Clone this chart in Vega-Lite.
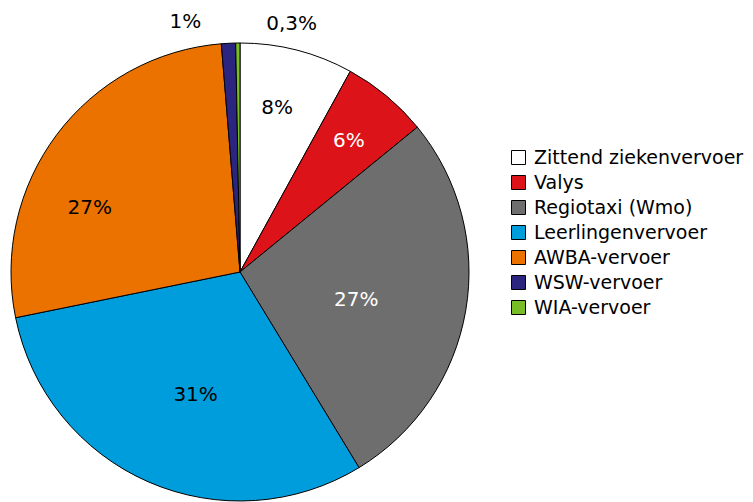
{
  "$schema": "https://vega.github.io/schema/vega-lite/v6.json",
  "width": 458,
  "height": 458,
  "autosize": {"type": "none"},
  "padding": {"left": 11, "top": 43, "right": 284, "bottom": 1},
  "background": "white",
  "data": {
    "values": [
      {"cat": "Zittend ziekenvervoer", "value": 8.0, "ord": 1, "label": "8%"},
      {"cat": "Valys", "value": 6.1, "ord": 2, "label": "6%"},
      {"cat": "Regiotaxi (Wmo)", "value": 27.2, "ord": 3, "label": "27%"},
      {"cat": "Leerlingenvervoer", "value": 30.5, "ord": 4, "label": "31%"},
      {"cat": "AWBA-vervoer", "value": 26.9, "ord": 5, "label": "27%"},
      {"cat": "WSW-vervoer", "value": 1.0, "ord": 6, "label": "1%"},
      {"cat": "WIA-vervoer", "value": 0.3, "ord": 7, "label": "0,3%"}
    ]
  },
  "encoding": {
    "theta": {"field": "value", "type": "quantitative", "stack": true},
    "order": {"field": "ord", "type": "quantitative"}
  },
  "layer": [
    {
      "mark": {"type": "arc", "stroke": "black", "strokeWidth": 1, "outerRadius": 229},
      "encoding": {
        "color": {
          "field": "cat",
          "type": "nominal",
          "scale": {
            "domain": ["Zittend ziekenvervoer", "Valys", "Regiotaxi (Wmo)", "Leerlingenvervoer", "AWBA-vervoer", "WSW-vervoer", "WIA-vervoer"],
            "range": ["#ffffff", "#dc1419", "#6e6e6e", "#009ddc", "#ec7200", "#2b2580", "#78bc28"]
          },
          "sort": null,
          "legend": {
            "title": null,
            "orient": "none",
            "legendX": 498,
            "legendY": 105,
            "padding": 0,
            "symbolType": "square",
            "symbolSize": 196,
            "symbolStrokeColor": "black",
            "symbolStrokeWidth": 1,
            "symbolOpacity": 1,
            "labelFont": "DejaVu Sans",
            "labelFontSize": 19,
            "labelColor": "black",
            "labelOffset": 6,
            "rowPadding": 5,
            "labelLimit": 400
          }
        }
      }
    },
    {
      "mark": {"type": "text", "radius": 169, "dx": -5, "font": "DejaVu Sans", "fontSize": 20, "color": "black", "align": "center", "baseline": "middle"},
      "encoding": {"text": {"condition": {"test": "datum.ord === 1", "field": "label"}, "value": ""}}
    },
    {
      "mark": {"type": "text", "radius": 170, "font": "DejaVu Sans", "fontSize": 20, "color": "white", "align": "center", "baseline": "middle"},
      "encoding": {"text": {"condition": {"test": "datum.ord === 2", "field": "label"}, "value": ""}}
    },
    {
      "mark": {"type": "text", "radius": 118, "dy": 8, "font": "DejaVu Sans", "fontSize": 20, "color": "white", "align": "center", "baseline": "middle"},
      "encoding": {"text": {"condition": {"test": "datum.ord === 3", "field": "label"}, "value": ""}}
    },
    {
      "mark": {"type": "text", "radius": 131, "dx": 8, "dy": 3, "font": "DejaVu Sans", "fontSize": 20, "color": "black", "align": "center", "baseline": "middle"},
      "encoding": {"text": {"condition": {"test": "datum.ord === 4", "field": "label"}, "value": ""}}
    },
    {
      "mark": {"type": "text", "radius": 163, "dx": -20, "dy": 34, "font": "DejaVu Sans", "fontSize": 20, "color": "black", "align": "center", "baseline": "middle"},
      "encoding": {"text": {"condition": {"test": "datum.ord === 5", "field": "label"}, "value": ""}}
    },
    {
      "mark": {"type": "text", "radius": 250, "dx": -42, "font": "DejaVu Sans", "fontSize": 20, "color": "black", "align": "center", "baseline": "middle"},
      "encoding": {"text": {"condition": {"test": "datum.ord === 6", "field": "label"}, "value": ""}}
    },
    {
      "mark": {"type": "text", "radius": 248, "dx": 54, "font": "DejaVu Sans", "fontSize": 20, "color": "black", "align": "center", "baseline": "middle"},
      "encoding": {"text": {"condition": {"test": "datum.ord === 7", "field": "label"}, "value": ""}}
    }
  ],
  "config": {"view": {"stroke": null}}
}
